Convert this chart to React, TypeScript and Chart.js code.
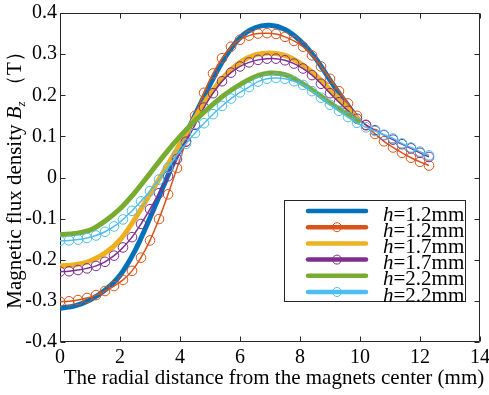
import React, { useEffect, useRef } from "react";
import { Chart, registerables } from "chart.js";

Chart.register(...registerables);

// ---------- data ----------
const xSolid = [0, 0.5, 1, 1.5, 2, 2.5, 3, 3.5, 4, 4.5, 5, 5.5, 6, 6.5, 7, 7.5, 8, 8.5, 9, 9.5, 10];
const xCircle = [
  0, 0.3, 0.6, 0.9, 1.2, 1.5, 1.8, 2.1, 2.4, 2.7,
  3.0, 3.3, 3.6, 3.9, 4.2, 4.5, 4.8, 5.1, 5.4, 5.7,
  6.0, 6.3, 6.6, 6.9, 7.2, 7.5, 7.8, 8.1, 8.4, 8.7,
  9.0, 9.3, 9.6, 9.9, 10.2, 10.5, 10.8, 11.1, 11.4, 11.7,
  12.0, 12.3,
];

const solidH12 = [-0.318, -0.312, -0.298, -0.274, -0.238, -0.178, -0.098, -0.012, 0.072, 0.152, 0.226, 0.292, 0.340, 0.364, 0.370, 0.360, 0.333, 0.292, 0.237, 0.185, 0.135];
const circleH12 = [
  -0.302, -0.301, -0.298, -0.293, -0.286, -0.276, -0.264, -0.249, -0.227, -0.195,
  -0.153, -0.101, -0.041, 0.023, 0.088, 0.150, 0.206, 0.253, 0.290, 0.318,
  0.335, 0.345, 0.350, 0.351, 0.349, 0.342, 0.332, 0.318, 0.297, 0.270,
  0.240, 0.210, 0.180, 0.150, 0.127, 0.106, 0.088, 0.073, 0.060, 0.048,
  0.038, 0.029,
];
const solidH17 = [-0.215, -0.212, -0.203, -0.184, -0.152, -0.100, -0.040, 0.020, 0.082, 0.145, 0.202, 0.248, 0.280, 0.298, 0.303, 0.297, 0.278, 0.250, 0.214, 0.176, 0.137];
const circleH17 = [
  -0.229, -0.228, -0.225, -0.221, -0.215, -0.205, -0.190, -0.170, -0.145, -0.113,
  -0.077, -0.038, 0.003, 0.045, 0.087, 0.128, 0.170, 0.205, 0.234, 0.255,
  0.270, 0.280, 0.286, 0.289, 0.289, 0.285, 0.277, 0.265, 0.249, 0.228,
  0.205, 0.183, 0.162, 0.143, 0.128, 0.115, 0.103, 0.092, 0.081, 0.071,
  0.060, 0.050,
];
const solidH22 = [-0.139, -0.136, -0.128, -0.106, -0.076, -0.036, 0.010, 0.057, 0.100, 0.138, 0.172, 0.202, 0.226, 0.245, 0.254, 0.250, 0.232, 0.208, 0.181, 0.157, 0.133];
const circleH22 = [
  -0.154, -0.153, -0.151, -0.147, -0.141, -0.132, -0.119, -0.102, -0.081, -0.058,
  -0.033, -0.005, 0.024, 0.054, 0.082, 0.108, 0.132, 0.154, 0.174, 0.192,
  0.207, 0.220, 0.233, 0.240, 0.242, 0.240, 0.234, 0.225, 0.210, 0.194,
  0.177, 0.162, 0.147, 0.133, 0.122, 0.113, 0.104, 0.095, 0.083, 0.073,
  0.063, 0.054,
];

const legendLabels = ["h=1.2mm", "h=1.2mm", "h=1.7mm", "h=1.7mm", "h=2.2mm", "h=2.2mm"];
const xTitle = "The radial distance from the magnets center (mm)";
const yTitleParts = ["Magnetic flux density ", "B", "z", " （T）"];

// ---------- style ----------
const FONT = '"Liberation Serif", "Times New Roman", serif';
const AXIS = "#262626";
const COLORS = ["#0072BD", "#D95319", "#EDB120", "#7E2F8E", "#77AC30", "#4DBEEE"];

const seriesList = [
  { xs: xSolid, ys: solidH12, marker: false },
  { xs: xCircle, ys: circleH12, marker: true },
  { xs: xSolid, ys: solidH17, marker: false },
  { xs: xCircle, ys: circleH17, marker: true },
  { xs: xSolid, ys: solidH22, marker: false },
  { xs: xCircle, ys: circleH22, marker: true },
];

const decor = {
  id: "decor",
  beforeDatasetsDraw(chart: any) {
    const { ctx, chartArea: a, scales } = chart;
    ctx.save();
    ctx.strokeStyle = AXIS;
    ctx.lineWidth = 1;
    const L = Math.round(a.left) + 0.5;
    const R = Math.round(a.right) - 0.5;
    const T = Math.round(a.top) + 0.5;
    const B = Math.round(a.bottom) - 0.5;
    ctx.beginPath();
    ctx.rect(L, T, R - L, B - T);
    scales.x.ticks.forEach((t: any) => {
      const px = Math.round(scales.x.getPixelForValue(t.value)) + 0.5;
      ctx.moveTo(px, B);
      ctx.lineTo(px, B - 5);
      ctx.moveTo(px, T);
      ctx.lineTo(px, T + 5);
    });
    scales.y.ticks.forEach((t: any) => {
      const py = Math.round(scales.y.getPixelForValue(t.value)) + 0.5;
      ctx.moveTo(L, py);
      ctx.lineTo(L + 5, py);
      ctx.moveTo(R, py);
      ctx.lineTo(R - 5, py);
    });
    ctx.stroke();
    ctx.restore();
  },
  afterDraw(chart: any) {
    const { ctx } = chart;
    ctx.save();
    // legend
    const bx = 284.5, by = 200.5, bw = 181, bh = 101;
    ctx.fillStyle = "#ffffff";
    ctx.fillRect(bx, by, bw, bh);
    ctx.strokeStyle = AXIS;
    ctx.lineWidth = 1;
    ctx.strokeRect(bx, by, bw, bh);
    legendLabels.forEach((lab, i) => {
      const y = 211 + i * 16.2;
      const c = COLORS[i];
      ctx.strokeStyle = c;
      ctx.lineWidth = 4.5;
      ctx.lineCap = "round";
      ctx.beginPath();
      ctx.moveTo(308, y);
      ctx.lineTo(366, y);
      ctx.stroke();
      if (seriesList[i].marker) {
        ctx.lineWidth = 1;
        ctx.beginPath();
        ctx.arc(337, y, 4.5, 0, Math.PI * 2);
        ctx.stroke();
      }
      ctx.fillStyle = "#000000";
      ctx.textBaseline = "alphabetic";
      ctx.textAlign = "left";
      ctx.font = `italic 21px ${FONT}`;
      const first = lab.slice(0, 1);
      ctx.fillText(first, 383, y + 9.5);
      const w = ctx.measureText(first).width;
      ctx.font = `21px ${FONT}`;
      ctx.fillText(lab.slice(1), 383 + w, y + 9.5);
    });

    // x title
    ctx.fillStyle = "#000000";
    ctx.font = `21px ${FONT}`;
    ctx.textAlign = "center";
    ctx.textBaseline = "alphabetic";
    ctx.fillText(xTitle, 274, 384);

    // y title (rotated)
    const fonts = [`21px ${FONT}`, `italic 21px ${FONT}`, `italic 13px ${FONT}`, `21px ${FONT}`];
    const dys = [0, 0, 4, 0];
    const widths = yTitleParts.map((p, i) => {
      ctx.font = fonts[i];
      return ctx.measureText(p).width;
    });
    const total = widths.reduce((s, v) => s + v, 0);
    ctx.translate(21, 175);
    ctx.rotate(-Math.PI / 2);
    ctx.textAlign = "left";
    let xx = -total / 2;
    yTitleParts.forEach((p, i) => {
      ctx.font = fonts[i];
      ctx.fillText(p, xx, dys[i]);
      xx += widths[i];
    });
    ctx.restore();
  },
};

export default function App() {
  const ref = useRef<HTMLCanvasElement | null>(null);

  useEffect(() => {
    if (!ref.current) return;
    const datasets = seriesList.map((s, i) => ({
      label: legendLabels[i],
      data: s.xs.map((x, k) => ({ x, y: s.ys[k] })),
      borderColor: COLORS[i],
      backgroundColor: "transparent",
      borderWidth: s.marker ? 1.5 : 5,
      pointRadius: s.marker ? 4.8 : 0,
      pointBorderWidth: 1,
      pointBorderColor: COLORS[i],
      pointBackgroundColor: "transparent",
      pointStyle: "circle",
      tension: 0.35,
      fill: false,
      order: 5 - i,
    }));
    const chart = new Chart(ref.current, {
      type: "line",
      data: { datasets },
      plugins: [decor],
      options: {
        animation: false,
        responsive: false,
        layout: { padding: { top: 13, right: 9, left: 0, bottom: 0 } },
        plugins: { legend: { display: false }, tooltip: { enabled: false }, title: { display: false } },
        scales: {
          x: {
            type: "linear",
            min: 0,
            max: 14,
            grid: { display: false, drawTicks: false },
            border: { display: false },
            ticks: {
              stepSize: 2,
              padding: 4,
              color: "#000000",
              maxRotation: 0,
              font: { family: FONT, size: 20 },
              callback: (v: any) => String(Math.round(Number(v))),
            },
            afterFit: (s: any) => {
              s.height = 53;
              s.paddingLeft = 0;
              s.paddingRight = 0;
            },
          },
          y: {
            type: "linear",
            min: -0.4,
            max: 0.4,
            grid: { display: false, drawTicks: false },
            border: { display: false },
            ticks: {
              stepSize: 0.1,
              padding: 3,
              color: "#000000",
              font: { family: FONT, size: 20 },
              callback: (v: any) => {
                const n = Math.round(Number(v) * 10) / 10;
                return n === 0 ? "0" : n.toFixed(1);
              },
            },
            afterFit: (s: any) => {
              s.width = 60;
              s.paddingTop = 0;
              s.paddingBottom = 0;
            },
          },
        },
      },
    });
    return () => chart.destroy();
  }, []);

  return (
    <div style={{ position: "fixed", left: 0, top: 0, width: 489, height: 395, background: "#fff" }}>
      <canvas ref={ref} width={489} height={395} style={{ display: "block" }} />
    </div>
  );
}
